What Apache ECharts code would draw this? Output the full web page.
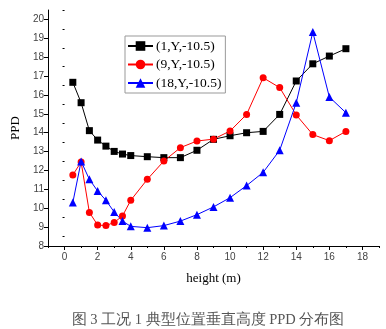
<!DOCTYPE html>
<html><head><meta charset="utf-8">
<script src="https://cdn.jsdelivr.net/npm/echarts@6/dist/echarts.min.js"></script>
<style>html,body{margin:0;padding:0;background:#fff}#c{width:386px;height:329px}</style>
</head><body><div id="c"></div>
<script>
const heights = [0.5,1,1.5,2,2.5,3,3.5,4,5,6,7,8,9,10,11,12,13,14,15,16,17];
const seriesNames = ['(1,Y,-10.5)','(9,Y,-10.5)','(18,Y,-10.5)'];
const ppd1 = [16.67,15.59,14.11,13.61,13.29,13.01,12.87,12.79,12.73,12.68,12.68,13.07,13.65,13.84,14.0,14.07,14.97,16.74,17.65,18.06,18.45];
const ppd9 = [11.76,12.45,9.78,9.11,9.08,9.25,9.59,10.42,11.53,12.5,13.21,13.56,13.66,14.09,14.97,16.91,16.39,14.94,13.9,13.58,14.07];
const ppd18 = [10.3,12.48,11.53,10.91,10.42,9.8,9.32,9.04,8.97,9.08,9.32,9.66,10.07,10.56,11.2,11.9,13.07,15.59,19.33,15.89,15.06];
const xTicks = [0,2,4,6,8,10,12,14,16,18];
const xMinorTicks = [-1,1,3,5,7,9,11,13,15,17,19];
const yTicks = [8,9,10,11,12,13,14,15,16,17,18,19,20];
const yMinorTicks = [8.5,9.5,10.5,11.5,12.5,13.5,14.5,15.5,16.5,17.5,18.5,19.5,20.5];
const caption = '图 3 工况 1 典型位置垂直高度 PPD 分布图';

const serif = '"Liberation Serif","DejaVu Serif",serif';
const sans = '"Liberation Sans",Arial,sans-serif';
const pair = arr => heights.map((h,i)=>[h,arr[i]]);
const colors = ['#000000','#ff0000','#0000ff'];
const symbols = ['rect','circle','triangle'];
const sizes = [7,7,8];
const data = [ppd1, ppd9, ppd18];

const chart = echarts.init(document.getElementById('c'), null, {renderer:'canvas'});
chart.setOption({
  animation:false,
  backgroundColor:'#fff',
  grid:{left:48,right:7,top:10,bottom:83,containLabel:false},
  title:{text:caption,left:203,top:308,textAlign:'center',
    textStyle:{fontFamily:serif,fontSize:14.5,fontWeight:'normal',color:'#555'}},
  legend:{orient:'vertical',left:125,top:36,
    data:seriesNames,
    itemWidth:25,itemHeight:12,itemGap:4.5,
    padding:[3,4,3,2],
    borderColor:'#999',borderWidth:1,backgroundColor:'#fff',
    textStyle:{fontFamily:serif,fontSize:13.5,color:'#000',padding:[0,0,0,-2]}},
  xAxis:[{
    type:'value',min:-1,max:19,
    name:'height (m)',nameLocation:'middle',nameGap:26,
    nameTextStyle:{fontFamily:serif,fontSize:13,color:'#000'},
    axisLine:{show:true,onZero:false,lineStyle:{color:'#000',width:1}},
    axisTick:{show:true,inside:false,length:4,customValues:xTicks,lineStyle:{color:'#000'}},
    axisLabel:{customValues:xTicks,fontFamily:sans,fontSize:10,color:'#444',margin:6},
    splitLine:{show:false}
  },{
    type:'value',min:-1,max:19,position:'bottom',
    axisLine:{show:false},
    axisTick:{show:true,inside:false,length:2,customValues:xMinorTicks,lineStyle:{color:'#000'}},
    axisLabel:{show:false},splitLine:{show:false}
  }],
  yAxis:[{
    type:'value',min:8,max:20.5,
    name:'PPD',nameLocation:'middle',nameGap:25,nameRotate:90,
    nameTextStyle:{fontFamily:serif,fontSize:13,color:'#000'},
    axisLine:{show:true,onZero:false,lineStyle:{color:'#000',width:1}},
    axisTick:{show:true,inside:false,length:4,customValues:yTicks,lineStyle:{color:'#000'}},
    axisLabel:{customValues:yTicks,fontFamily:sans,fontSize:10,color:'#444',margin:4},
    splitLine:{show:false}
  },{
    type:'value',min:8,max:20.5,position:'left',
    axisLine:{show:false},
    axisTick:{show:true,inside:false,length:2,customValues:yMinorTicks,lineStyle:{color:'#000'}},
    axisLabel:{show:false},splitLine:{show:false}
  }],
  series:data.map((d,i)=>({
    name:seriesNames[i],type:'line',data:pair(d),
    xAxisIndex:0,yAxisIndex:0,
    symbol:symbols[i],symbolSize:sizes[i],showAllSymbol:true,
    lineStyle:{color:colors[i],width:1},
    itemStyle:{color:colors[i]},
    emphasis:{disabled:true}
  }))
});
</script></body></html>
